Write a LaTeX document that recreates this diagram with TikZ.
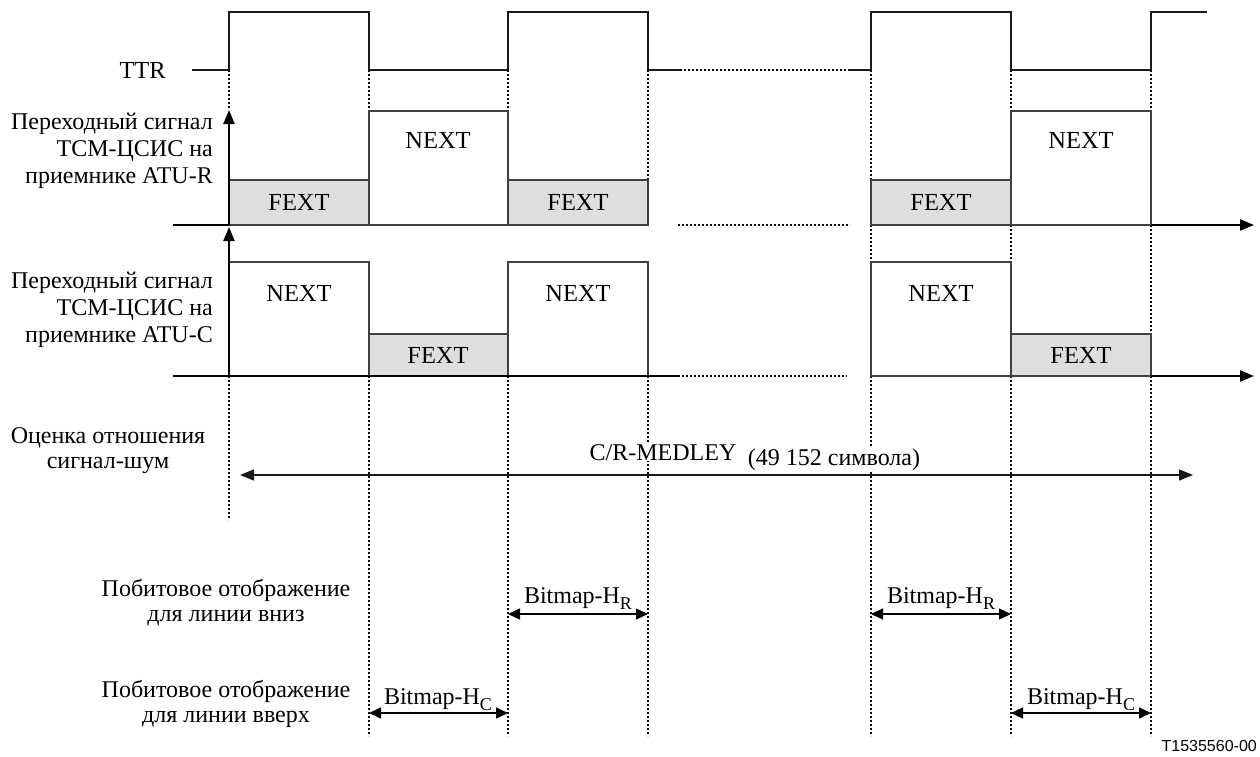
\documentclass[tikz,border=0pt]{standalone}
\usepackage{fontspec}
\setmainfont{Liberation Serif}
\newfontfamily\tnumfont{Liberation Sans}
\usetikzlibrary{arrows.meta}
\begin{document}
\begin{tikzpicture}[x=1pt,y=-1pt,
  txt/.style={font=\fontsize{24.5}{28}\selectfont, inner sep=0pt},
  smalltxt/.style={font=\fontsize{24}{27}\selectfont, inner sep=0pt},
  thinline/.style={line width=1.3pt, draw=black!90},
  axisline/.style={line width=2.2pt},
  dots/.style={line width=2pt, dash pattern=on 2pt off 2pt},
  fextbox/.style={fill=black!13, draw=black!75, line width=1.3pt},
  nextbox/.style={draw=black!75, line width=1.3pt},
  tip/.style={-{Triangle[length=14pt,width=11pt]}},
  dim/.style={line width=1.3pt, {Triangle[length=12pt,width=11pt]}-{Triangle[length=12pt,width=11pt]}}
]
\useasboundingbox (0,0) rectangle (1260,756);

% ---- TTR waveform
\draw[thinline] (192,70) -- (229,70) -- (229,12) -- (369,12) -- (369,70) -- (508,70) -- (508,12) -- (648,12) -- (648,70) -- (680,70);
\draw[dots] (680,70) -- (848,70);
\draw[thinline] (848,70) -- (871,70) -- (871,12) -- (1011,12) -- (1011,70) -- (1151,70) -- (1151,12) -- (1207,12);

% ---- dotted vertical time marks
\draw[dots] (229,70) -- (229,108);
\draw[dots] (369,70) -- (369,111);
\draw[dots] (508,70) -- (508,111);
\draw[dots] (648,70) -- (648,180);
\draw[dots] (871,70) -- (871,180);
\draw[dots] (1011,70) -- (1011,111);
\draw[dots] (1151,70) -- (1151,111);
\draw[dots] (871,225) -- (871,262);
\draw[dots] (1011,225) -- (1011,262);
\draw[dots] (1151,225) -- (1151,334);
\draw[dots] (229,376) -- (229,520);
\foreach \xx in {369,508,648,871,1011,1151}
  \draw[dots] (\xx,376) -- (\xx,736);

% ---- row 1 : ATU-R
\draw[fextbox] (229,180) rectangle (369,225);
\draw[nextbox] (369,111) rectangle (508,225);
\draw[fextbox] (508,180) rectangle (648,225);
\draw[fextbox] (871,180) rectangle (1011,225);
\draw[nextbox] (1011,111) rectangle (1151,225);
\draw[axisline] (173,225) -- (229,225);
\draw[dots] (678,225) -- (850,225);
\coordinate (r1end) at (1254,225);
\coordinate (r1start) at (1151,225);
\draw[axisline,tip] (r1start) -- (r1end);
\coordinate (ya1) at (229,225);
\coordinate (ya1t) at (229,110);
\draw[axisline,tip] (ya1) -- (ya1t);

\node[txt] (n1) at (438,140) {NEXT};
\node[txt] (n2) at (1081,140) {NEXT};
\node[txt] (f1) at (299,202) {FEXT};
\node[txt] (f2) at (578,202) {FEXT};
\node[txt] (f3) at (941,202) {FEXT};

% ---- row 2 : ATU-C
\draw[nextbox] (229,262) rectangle (369,376);
\draw[fextbox] (369,334) rectangle (508,376);
\draw[nextbox] (508,262) rectangle (648,376);
\draw[nextbox] (871,262) rectangle (1011,376);
\draw[fextbox] (1011,334) rectangle (1151,376);
\draw[axisline] (173,376) -- (678,376);
\draw[dots] (678,376) -- (847,376);
\coordinate (r2end) at (1254,376);
\coordinate (r2start) at (1151,376);
\draw[axisline,tip] (r2start) -- (r2end);
\coordinate (ya2) at (229,376);
\coordinate (ya2t) at (229,227);
\draw[axisline,tip] (ya2) -- (ya2t);

\node[txt] (n3) at (299,293) {NEXT};
\node[txt] (n4) at (578,293) {NEXT};
\node[txt] (n5) at (941,293) {NEXT};
\node[txt] (f4) at (438,355) {FEXT};
\node[txt] (f5) at (1081,355) {FEXT};

% ---- left labels
\node[txt, anchor=east] (ttr) at (166,70) {TTR};
\node[smalltxt, anchor=east, align=right] (atur) at (213,151) {Переходный сигнал\\ТСМ-ЦСИС на\\приемнике ATU-R};
\node[smalltxt, anchor=east, align=right] (atuc) at (213,310) {Переходный сигнал\\ТСМ-ЦСИС на\\приемнике ATU-C};
\node[smalltxt, align=center, font=\fontsize{24}{25}\selectfont] (snr) at (108,451) {Оценка отношения\\сигнал-шум};
\node[smalltxt, align=center, font=\fontsize{24}{25}\selectfont] (down) at (226,603) {Побитовое отображение\\для линии вниз};
\node[smalltxt, align=center, font=\fontsize{24}{25}\selectfont] (up) at (226,704) {Побитовое отображение\\для линии вверх};

% ---- MEDLEY
\node[smalltxt, anchor=base, fill=white, inner sep=1pt] (med1) at (663,460) {C/R-MEDLEY};
\node[smalltxt, anchor=base, fill=white, inner sep=1pt] (med2) at (834,465) {(49 152 символа)};
\coordinate (medl) at (240,475);
\coordinate (medr) at (1193,475);
\draw[thinline, {Triangle[length=14pt,width=11pt]}-{Triangle[length=14pt,width=11pt]}] (medl) -- (medr);

% ---- bitmap arrows
\coordinate (hra) at (508,614); \coordinate (hrb) at (648,614);
\coordinate (hrc) at (871,614); \coordinate (hrd) at (1011,614);
\coordinate (hca) at (369,713); \coordinate (hcb) at (508,713);
\coordinate (hcc) at (1011,713); \coordinate (hcd) at (1151,713);
\draw[dim] (hra) -- (hrb);
\draw[dim] (hrc) -- (hrd);
\draw[dim] (hca) -- (hcb);
\draw[dim] (hcc) -- (hcd);
\node[smalltxt, anchor=base] (bhr1) at (578,603) {Bitmap-H\raisebox{-6pt}{\fontsize{18}{18}\selectfont R}};
\node[smalltxt, anchor=base] (bhr2) at (941,603) {Bitmap-H\raisebox{-6pt}{\fontsize{18}{18}\selectfont R}};
\node[smalltxt, anchor=base] (bhc1) at (438,704) {Bitmap-H\raisebox{-6pt}{\fontsize{18}{18}\selectfont C}};
\node[smalltxt, anchor=base] (bhc2) at (1081,704) {Bitmap-H\raisebox{-6pt}{\fontsize{18}{18}\selectfont C}};

% ---- figure number
\node[font=\tnumfont\fontsize{16}{18}\selectfont, anchor=base east, inner sep=0pt] (tnum) at (1257,751) {T1535560-00};
\end{tikzpicture}
\end{document}
